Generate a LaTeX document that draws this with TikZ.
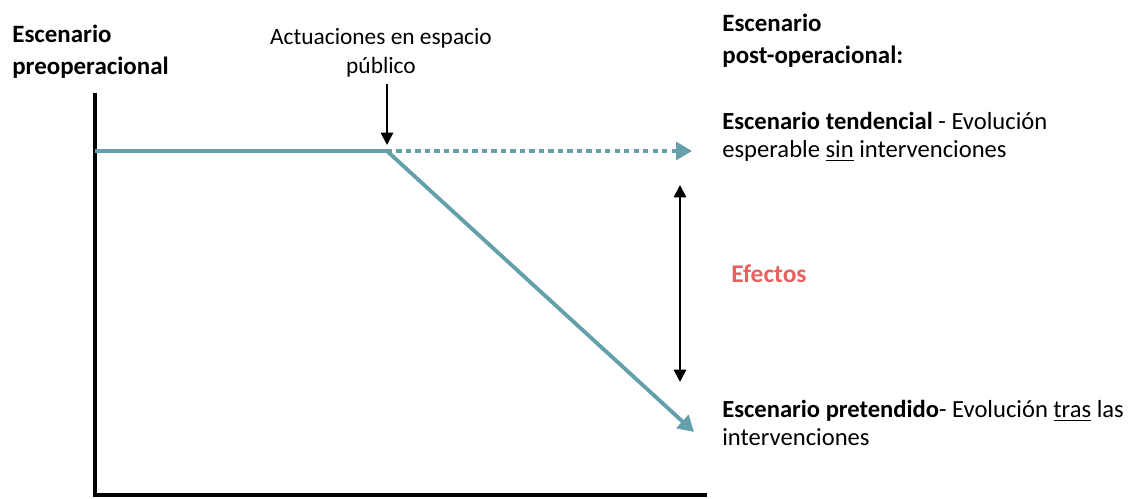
\documentclass[tikz,border=0pt]{standalone}
\usepackage{fontspec}
\setmainfont{Carlito}
\usetikzlibrary{arrows.meta, positioning}
\definecolor{tealline}{RGB}{100,160,170}
\definecolor{efectred}{RGB}{234,96,95}

\begin{document}
\begin{tikzpicture}[
        x=0.02cm, y=-0.02cm,
        txt/.style={inner sep=0pt, align=left, font=\fontsize{14}{16}\selectfont},
        heading/.style={txt, font=\fontsize{14.2}{18}\selectfont\bfseries},
        axisline/.style={draw=black, line width=2.7pt},
        trend/.style={draw=tealline, line width=2.2pt},
        trendtip/.style={-{Triangle[length=9pt, width=10pt]}},
        dotline/.style={dash pattern=on 3pt off 2.4pt},
        marker/.style={draw=black, line width=1.1pt, -{Triangle[length=7pt, width=7pt]}},
        effrange/.style={draw=black, line width=1.1pt, {Triangle[length=7pt, width=7pt]}-{Triangle[length=7pt, width=7pt]}}
    ]
        \useasboundingbox (0,0) rectangle (1137,498);

        % Axes
        \coordinate (ytop) at (95,93);
        \coordinate (origin) at (95,495);
        \coordinate (xend) at (707,495);
        \draw[axisline] (ytop) -- (origin);
        \draw[axisline, line width=1.8pt] ([xshift=-1.3pt]origin) -- (xend);

        % Trend lines
        \coordinate (start) at (95,151);
        \coordinate (knee) at (387,151);
        \coordinate (tendend) at (692,151);
        \coordinate (pretend) at (694,432);
        \draw[trend] (start) -- (knee);
        \draw[trend, dotline, trendtip] (knee) -- (tendend);
        \draw[trend, trendtip] (knee) -- (pretend);

        % Labels (left and top)
        \node[heading, anchor=north west] (preop) at (12,25) {Escenario\\preoperacional};
        \node[txt, align=center, anchor=north, font=\fontsize{13.3}{16.5}\selectfont] (actuaciones) at (381,28) {Actuaciones en espacio\\público};
        \coordinate (actbottom) at (387,84);
        \coordinate (actend) at (387,145);
        \draw[marker] (actbottom) -- (actend);

        % Labels (right)
        \node[heading, anchor=north west] (postop) at (722,14) {Escenario\\post-operacional:};
        \node[txt, anchor=north west] (tendencial) at (722,112) {\textbf{Escenario tendencial} - Evolución\\esperable \underline{sin} intervenciones};
        \node[txt, anchor=north west] (pretendido) at (722,400) {\textbf{Escenario pretendido}- Evolución \underline{tras} las\\intervenciones};

        % Effects
        \coordinate (efftop) at (680,185);
        \coordinate (effbottom) at (680,382);
        \draw[effrange] (efftop) -- (effbottom);
        \node[heading, text=efectred, font=\fontsize{14.5}{18}\selectfont\bfseries] (efectos) at (769,274) {Efectos};

    \end{tikzpicture}
\end{document}
